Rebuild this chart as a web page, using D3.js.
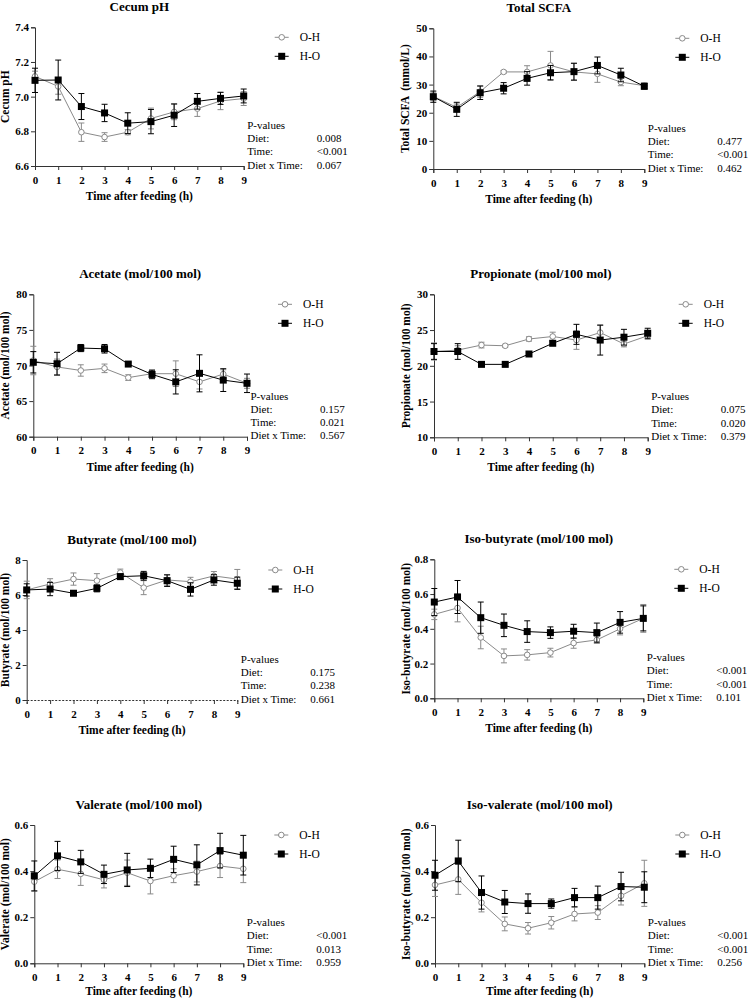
<!DOCTYPE html>
<html>
<head>
<meta charset="utf-8">
<script src="https://cdn.jsdelivr.net/npm/d3@7"></script>
<style>
  body { margin: 0; background: #fff; }
  svg { display: block; }
  text { font-family: "Liberation Serif", "Times New Roman", serif; fill: #000; }
</style>
</head>
<body>
<svg id="chart" width="751" height="999"></svg>
<script>
// ---- data ----
const hours = [0, 1, 2, 3, 4, 5, 6, 7, 8, 9];
const groups = ["O-H", "H-O"];
const pLabels = ["P-values", "Diet:", "Time:", "Diet x Time:"];

const phOH      = [7.117, 7.059, 6.795, 6.767, 6.795, 6.874, 6.912, 6.931, 6.975, 6.989];
const phOHse    = [0.03, 0.045, 0.053, 0.025, 0.015, 0.06, 0.045, 0.045, 0.05, 0.04];
const phHO      = [7.094, 7.096, 6.943, 6.906, 6.847, 6.856, 6.893, 6.973, 6.990, 7.004];
const phHOse    = [0.07, 0.115, 0.075, 0.05, 0.06, 0.07, 0.065, 0.045, 0.035, 0.04];

const scfaOH    = [25.8, 21.9, 27.5, 34.5, 34.5, 36.8, 34.5, 33.8, 30.9, 29.6];
const scfaOHse  = [1.5, 1.2, 2.0, 0.5, 2.2, 5.0, 3.0, 3.0, 1.3, 1.0];
const scfaHO    = [25.7, 21.2, 27.1, 28.7, 32.2, 34.2, 34.6, 36.8, 33.4, 29.4];
const scfaHOse  = [2.0, 2.5, 2.4, 2.0, 2.4, 2.6, 3.0, 3.0, 2.4, 1.0];

const acetOH    = [70.7, 69.8, 69.3, 69.6, 68.3, 68.85, 68.85, 67.7, 68.8, 67.5];
const acetOHse  = [2.0, 1.1, 0.8, 0.6, 0.4, 0.5, 1.8, 1.0, 0.6, 0.7];
const acetHO    = [70.45, 70.25, 72.45, 72.35, 70.2, 68.75, 67.7, 68.9, 67.95, 67.5];
const acetHOse  = [1.5, 1.6, 0.5, 0.6, 0.2, 0.6, 1.7, 2.6, 1.6, 1.3];

const propOH    = [22.0, 22.2, 22.9, 22.8, 23.75, 24.1, 23.6, 24.65, 23.05, 24.2];
const propOHse  = [1.2, 0.6, 0.4, 0.2, 0.3, 0.6, 1.3, 1.0, 0.4, 0.5];
const propHO    = [22.0, 22.0, 20.2, 20.2, 21.65, 23.15, 24.4, 23.6, 24.0, 24.55];
const propHOse  = [1.1, 1.1, 0.2, 0.2, 0.2, 0.3, 1.4, 2.1, 1.1, 0.7];

const butOH     = [6.29, 6.63, 6.91, 6.82, 7.28, 6.42, 6.86, 6.76, 7.09, 6.91];
const butOHse   = [0.5, 0.3, 0.35, 0.4, 0.2, 0.4, 0.3, 0.25, 0.25, 0.55];
const butHO     = [6.29, 6.34, 6.10, 6.38, 7.05, 7.10, 6.82, 6.32, 6.86, 6.67];
const butHOse   = [0.35, 0.38, 0.12, 0.2, 0.15, 0.25, 0.33, 0.38, 0.3, 0.35];

const ibutOH    = [0.483, 0.52, 0.35, 0.244, 0.25, 0.263, 0.318, 0.336, 0.40, 0.46];
const ibutOHse  = [0.03, 0.08, 0.065, 0.04, 0.03, 0.025, 0.03, 0.02, 0.035, 0.08];
const ibutHO    = [0.554, 0.583, 0.464, 0.42, 0.384, 0.378, 0.386, 0.378, 0.437, 0.46];
const ibutHOse  = [0.078, 0.095, 0.09, 0.065, 0.062, 0.033, 0.04, 0.055, 0.062, 0.072];

const valOH     = [0.354, 0.408, 0.388, 0.362, 0.393, 0.357, 0.38, 0.398, 0.422, 0.41];
const valOHse   = [0.04, 0.04, 0.05, 0.035, 0.055, 0.056, 0.03, 0.045, 0.05, 0.06];
const valHO     = [0.379, 0.466, 0.44, 0.386, 0.405, 0.412, 0.451, 0.427, 0.489, 0.469];
const valHOse   = [0.065, 0.063, 0.05, 0.04, 0.072, 0.04, 0.057, 0.087, 0.075, 0.086];

const ivalOH    = [0.34, 0.364, 0.263, 0.171, 0.152, 0.176, 0.214, 0.22, 0.293, 0.347];
const ivalOHse  = [0.05, 0.065, 0.04, 0.03, 0.025, 0.027, 0.03, 0.03, 0.04, 0.1];
const ivalHO    = [0.382, 0.444, 0.307, 0.266, 0.259, 0.259, 0.285, 0.285, 0.333, 0.33];
const ivalHOse  = [0.065, 0.09, 0.072, 0.05, 0.042, 0.02, 0.04, 0.05, 0.062, 0.067];

const phP   = ["0.008", "<0.001", "0.067"];
const scfaP = ["0.477", "<0.001", "0.462"];
const acetP = ["0.157", "0.021", "0.567"];
const propP = ["0.075", "0.020", "0.379"];
const butP  = ["0.175", "0.238", "0.661"];
const ibutP = ["<0.001", "<0.001", "0.101"];
const valP  = ["<0.001", "0.013", "0.959"];
const ivalP = ["<0.001", "<0.001", "0.256"];

// ---- panel setup (layout boxes in page pixels) ----
const f1 = d3.format(".1f");
const panels = [
  { title: "Cecum pH", ylab: "Cecum pH", oh: phOH, ohE: phOHse, ho: phHO, hoE: phHOse, p: phP,
    domain: [6.6, 7.4], ticks: [6.6, 6.8, 7.0, 7.2, 7.4], fmt: f1,
    box: { l: 35, r: 243.7, t: 27.3, b: 166 }, labX: 5 },
  { title: "Total SCFA", ylab: "Total SCFA  (mmol/L)", oh: scfaOH, ohE: scfaOHse, ho: scfaHO, hoE: scfaHOse, p: scfaP,
    domain: [0, 50], ticks: [0, 10, 20, 30, 40, 50], fmt: d3.format("d"),
    box: { l: 433.3, r: 644.3, t: 28.3, b: 169 }, labX: 405 },
  { title: "Acetate (mol/100 mol)", ylab: "Acetate (mol/100 mol)", oh: acetOH, ohE: acetOHse, ho: acetHO, hoE: acetHOse, p: acetP,
    domain: [60, 80], ticks: [60, 65, 70, 75, 80], fmt: d3.format("d"),
    box: { l: 33.3, r: 247, t: 294.3, b: 436.7 }, labX: 5 },
  { title: "Propionate (mol/100 mol)", ylab: "Propionate (mol/100 mol)", oh: propOH, ohE: propOHse, ho: propHO, hoE: propHOse, p: propP,
    domain: [10, 30], ticks: [10, 15, 20, 25, 30], fmt: d3.format("d"),
    box: { l: 434, r: 647.7, t: 294.3, b: 437.3 }, labX: 405.7 },
  { title: "Butyrate (mol/100 mol)", ylab: "Butyrate (mol/100 mol)", oh: butOH, ohE: butOHse, ho: butHO, hoE: butHOse, p: butP,
    domain: [0, 8], ticks: [0, 2, 4, 6, 8], fmt: d3.format("d"), dottedX: true,
    box: { l: 26.7, r: 237.3, t: 560, b: 700 }, labX: 5 },
  { title: "Iso-butyrate (mol/100 mol)", ylab: "Iso-butyrate (mol/100 mol)", oh: ibutOH, ohE: ibutOHse, ho: ibutHO, hoE: ibutHOse, p: ibutP,
    domain: [0, 0.8], ticks: [0, 0.2, 0.4, 0.6, 0.8], fmt: f1,
    box: { l: 434.3, r: 643.3, t: 559.3, b: 698.3 }, labX: 405.7 },
  { title: "Valerate (mol/100 mol)", ylab: "Valerate (mol/100 mol)", oh: valOH, ohE: valOHse, ho: valHO, hoE: valHOse, p: valP,
    domain: [0, 0.6], ticks: [0, 0.2, 0.4, 0.6], fmt: f1,
    box: { l: 34.3, r: 243.3, t: 825, b: 963.3 }, labX: 5 },
  { title: "Iso-valerate (mol/100 mol)", ylab: "Iso-butyrate (mol/100 mol)", oh: ivalOH, ohE: ivalOHse, ho: ivalHO, hoE: ivalHOse, p: ivalP,
    domain: [0, 0.6], ticks: [0, 0.2, 0.4, 0.6], fmt: f1,
    box: { l: 435, r: 644.3, t: 825, b: 963.3 }, labX: 405.7 }
];

const grey = "#8a8a8a";
const axisColor = "#333";
const svg = d3.select("#chart");

function drawPanel(cfg) {
  const { l, r, t, b } = cfg.box;
  const x = d3.scaleLinear().domain([0, 9]).range([l, r]);
  const y = d3.scaleLinear().domain(cfg.domain).range([b, t]);
  const g = svg.append("g");

  // title
  g.append("text")
    .attr("x", (l + r) / 2)
    .attr("y", t - 16)
    .attr("text-anchor", "middle")
    .style("font-size", "13px")
    .style("font-weight", "bold")
    .text(cfg.title);

  // axes
  const yAxis = g.append("g")
    .attr("transform", `translate(${l},0)`)
    .call(d3.axisLeft(y).tickValues(cfg.ticks).tickFormat(cfg.fmt).tickSize(4).tickPadding(2));
  const xAxis = g.append("g")
    .attr("transform", `translate(0,${b})`)
    .call(d3.axisBottom(x).tickValues(hours).tickFormat(d3.format("d")).tickSize(4).tickPadding(6));

  [yAxis, xAxis].forEach(a => {
    a.selectAll("path, line").attr("stroke", axisColor).attr("stroke-width", 1);
    a.selectAll("text")
      .style("font-family", '"Liberation Serif", "Times New Roman", serif')
      .style("font-size", "11px")
      .style("font-weight", "bold")
      .attr("fill", "#000");
  });
  if (cfg.dottedX) xAxis.select("path.domain").attr("stroke-dasharray", "2,1.5");

  // axis titles (bottom row sits close to the page edge)
  g.append("text")
    .attr("x", (l + r) / 2)
    .attr("y", Math.min(b + 34, 995))
    .attr("text-anchor", "middle")
    .style("font-size", "11.5px")
    .style("font-weight", "bold")
    .text("Time after feeding (h)");

  g.append("text")
    .attr("transform", `translate(${cfg.labX},${(t + b) / 2}) rotate(-90)`)
    .attr("dy", "0.35em")
    .attr("text-anchor", "middle")
    .style("font-size", "11.5px")
    .style("font-weight", "bold")
    .style("white-space", "pre")
    .text(cfg.ylab);

  // series
  const series = [
    { name: groups[0], v: cfg.oh, e: cfg.ohE, color: grey, shape: "circle" },
    { name: groups[1], v: cfg.ho, e: cfg.hoE, color: "#000", shape: "square" }
  ];

  const line = d3.line().x((d, i) => x(hours[i])).y(d => y(d));

  series.forEach(s => {
    const sg = g.append("g");
    // error bars
    const eb = sg.selectAll("g.err").data(s.v).join("g").attr("class", "err");
    eb.append("line")
      .attr("x1", (d, i) => x(hours[i])).attr("x2", (d, i) => x(hours[i]))
      .attr("y1", (d, i) => y(d - s.e[i])).attr("y2", (d, i) => y(d + s.e[i]))
      .attr("stroke", s.color).attr("stroke-width", 1);
    [-1, 1].forEach(sign => {
      eb.append("line")
        .attr("x1", (d, i) => x(hours[i]) - 3).attr("x2", (d, i) => x(hours[i]) + 3)
        .attr("y1", (d, i) => y(d + sign * s.e[i])).attr("y2", (d, i) => y(d + sign * s.e[i]))
        .attr("stroke", s.color).attr("stroke-width", 1);
    });
    // line
    sg.append("path")
      .datum(s.v)
      .attr("d", line)
      .attr("fill", "none")
      .attr("stroke", s.color)
      .attr("stroke-width", 1);
    // markers
    if (s.shape === "circle") {
      sg.selectAll("circle").data(s.v).join("circle")
        .attr("cx", (d, i) => x(hours[i])).attr("cy", d => y(d))
        .attr("r", 2.8).attr("fill", "#fff").attr("stroke", s.color).attr("stroke-width", 1);
    } else {
      sg.selectAll("rect").data(s.v).join("rect")
        .attr("x", (d, i) => x(hours[i]) - 3.5).attr("y", d => y(d) - 3.5)
        .attr("width", 7).attr("height", 7).attr("fill", "#000");
    }
  });

  // legend
  series.forEach((s, i) => {
    const ly = t + 10 + i * 19;
    const lx = r + 38;
    g.append("line")
      .attr("x1", lx - 7).attr("x2", lx + 7).attr("y1", ly).attr("y2", ly)
      .attr("stroke", s.color).attr("stroke-width", 1);
    if (s.shape === "circle") {
      g.append("circle").attr("cx", lx).attr("cy", ly).attr("r", 2.8)
        .attr("fill", "#fff").attr("stroke", s.color).attr("stroke-width", 1);
    } else {
      g.append("rect").attr("x", lx - 3.5).attr("y", ly - 3.5).attr("width", 7).attr("height", 7).attr("fill", "#000");
    }
    g.append("text")
      .attr("x", r + 56).attr("y", ly).attr("dy", "0.35em")
      .style("font-size", "11.5px")
      .text(s.name);
  });

  // p-values block
  pLabels.forEach((lab, i) => {
    const py = b - 41 + i * 13.3;
    g.append("text")
      .attr("x", r + 3.5).attr("y", py).attr("dy", "0.35em")
      .style("font-size", "11px")
      .text(lab);
    if (i > 0) {
      g.append("text")
        .attr("x", r + 73).attr("y", py).attr("dy", "0.35em")
        .style("font-size", "11px")
        .text(cfg.p[i - 1]);
    }
  });
}

panels.forEach(drawPanel);
</script>
</body>
</html>
